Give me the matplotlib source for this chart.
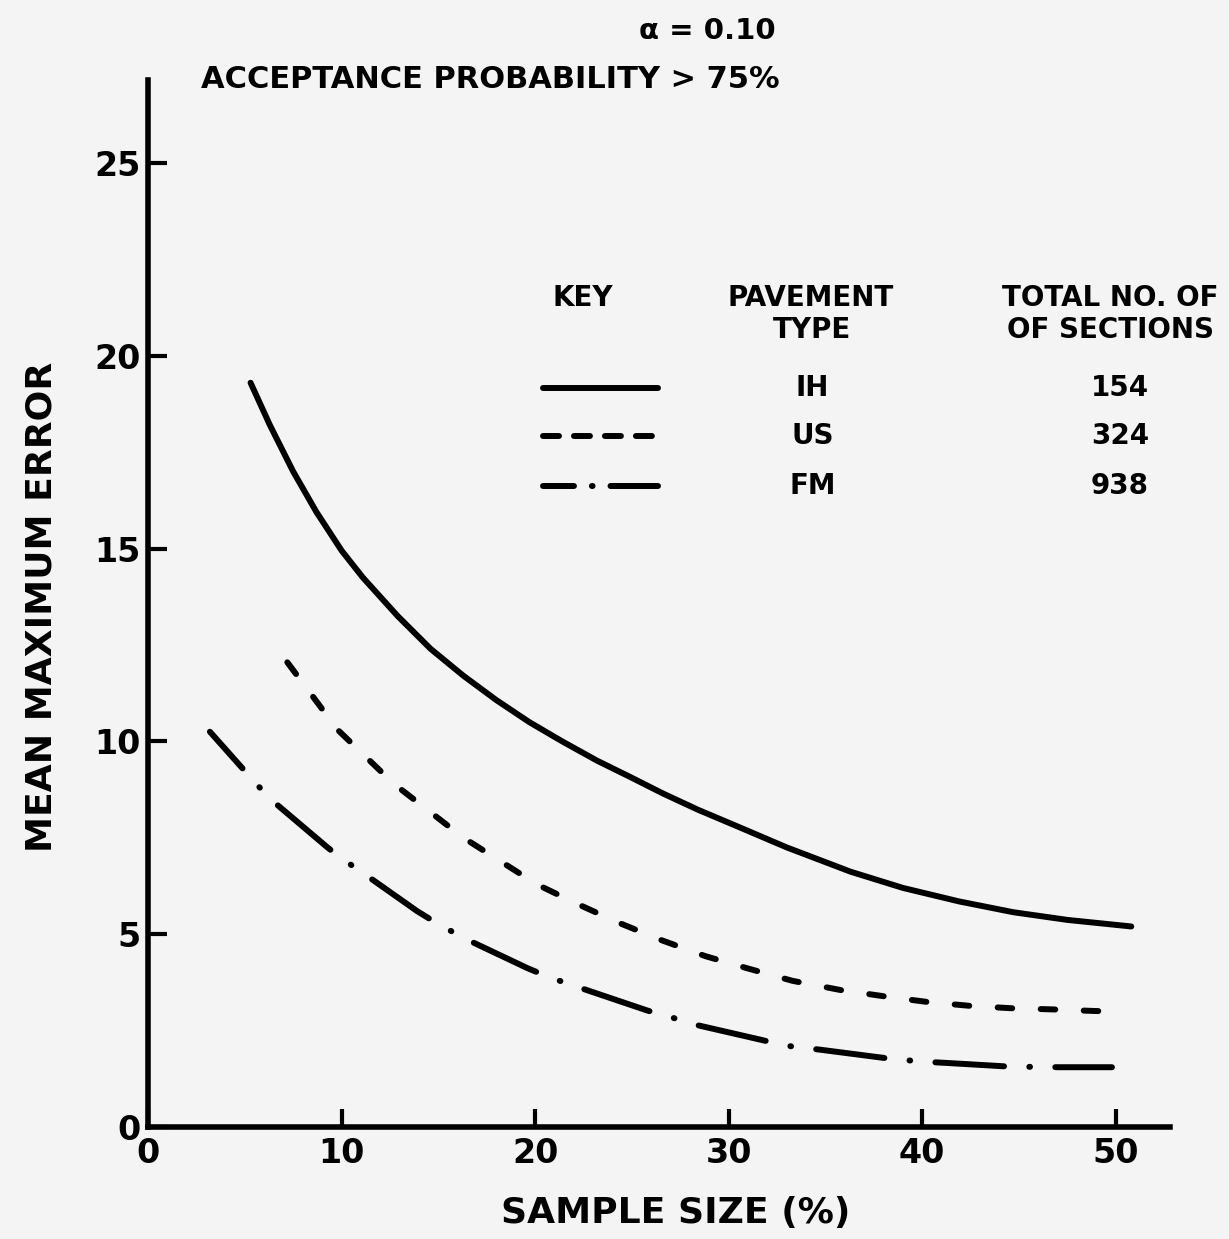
import numpy as np
import matplotlib
matplotlib.use("Agg")
import matplotlib.pyplot as plt

plt.rcParams['font.family'] = ['DejaVu Sans']
plt.rcParams['font.weight'] = 'bold'
plt.rcParams['lines.scale_dashes'] = False

# curves
ih_x = [5.3, 6.3, 7.5, 8.7, 10.0, 11.1, 12.9, 14.6, 16.3, 18.0, 19.7, 21.4, 23.2,
        24.9, 26.6, 28.4, 30.1, 33.0, 36.3, 39.0, 41.9, 44.7, 47.5, 50.8]
ih_y = [19.3, 18.2, 17.0, 15.95, 14.95, 14.25, 13.25, 12.4, 11.7, 11.07, 10.5, 10.0, 9.5,
        9.08, 8.65, 8.23, 7.87, 7.25, 6.62, 6.2, 5.85, 5.57, 5.37, 5.2]

us_x = [7.2, 9.8, 12.7, 16.3, 20.1, 22.2, 24.35, 26.5, 28.8, 31.0, 33.3, 35.8,
        38.3, 40.3, 42.5, 44.6, 46.7, 48.8, 49.6]
us_y = [12.05, 10.3, 8.9, 7.5, 6.29, 5.78, 5.29, 4.85, 4.43, 4.11, 3.79, 3.55,
        3.37, 3.24, 3.14, 3.08, 3.05, 3.01, 3.0]

fm_x = [3.2, 5.7, 6.5, 9.25, 9.9, 11.1, 13.9, 15.0, 16.4, 19.6, 20.7, 22.2, 25.8,
        27.0, 28.3, 32.2, 33.1, 34.8, 38.5, 40.2, 41.3, 44.7, 45.6, 47.1, 49.8]
fm_y = [10.25, 8.84, 8.43, 7.26, 7.0, 6.59, 5.6, 5.26, 4.88, 4.12, 3.89, 3.63, 3.02,
        2.85, 2.65, 2.2, 2.1, 2.0, 1.76, 1.69, 1.66, 1.56, 1.56, 1.55, 1.55]

pavement = ['IH', 'US', 'FM']
sections = ['154', '324', '938']

x_ticks = [0, 10, 20, 30, 40, 50]
y_ticks = [0, 5, 10, 15, 20, 25]

lw = 4.3
solid = '-'
dashed = (0, (10.5, 20.5))
dashdot = (14.2, (49.5, 18.2, 0.5, 18.2))

fig = plt.figure(figsize=(12.29, 12.39), dpi=100)
bg = '#f4f4f4'
fig.patch.set_facecolor(bg)
ax = fig.add_axes([0.1204, 0.0904, 0.8316, 0.845])
ax.set_facecolor(bg)

ax.plot(ih_x, ih_y, color='black', lw=lw, ls=solid, solid_capstyle='round',
        solid_joinstyle='round')
ax.plot(us_x, us_y, color='black', lw=lw, ls=dashed, dash_capstyle='round',
        dash_joinstyle='round')
ax.plot(fm_x, fm_y, color='black', lw=lw, ls=dashdot, dash_capstyle='round',
        dash_joinstyle='round')

ax.set_xlim(0, 52.8)
ax.set_ylim(0, 27.15)
for s in ['top', 'right']:
    ax.spines[s].set_visible(False)
for s in ['left', 'bottom']:
    ax.spines[s].set_linewidth(4)

ax.set_xticks(x_ticks)
ax.set_yticks(y_ticks)
ax.tick_params(axis='both', direction='in', width=3, labelsize=24)
ax.tick_params(axis='x', length=13, pad=7)
ax.tick_params(axis='y', length=14, pad=5)

ax.set_xlabel('SAMPLE SIZE (%)', fontsize=26, fontweight='bold')
ax.xaxis.set_label_coords(0.516, -0.066)
ax.set_ylabel('MEAN MAXIMUM ERROR', fontsize=26, fontweight='bold')
ax.yaxis.set_label_coords(-0.088, 0.497)

fig.text(707 / 1229, 1 - 31 / 1239, 'α = 0.10', fontsize=21, ha='center', va='center')
fig.text(490 / 1229, 1 - 79 / 1239, 'ACCEPTANCE PROBABILITY > 75%', fontsize=22,
         ha='center', va='center')

# key table
t = ax.transAxes
ax.text(0.4256, 0.792, 'KEY', transform=t, fontsize=20, ha='center', va='center')
ax.text(0.648, 0.792, 'PAVEMENT', transform=t, fontsize=20, ha='center', va='center')
ax.text(0.650, 0.761, 'TYPE', transform=t, fontsize=20, ha='center', va='center')
ax.text(0.942, 0.792, 'TOTAL NO. OF', transform=t, fontsize=20, ha='center', va='center')
ax.text(0.942, 0.761, 'OF SECTIONS', transform=t, fontsize=20, ha='center', va='center')

key_styles = ['-', (0, (11.5, 10.8)), (0, (22.3, 12.9, 0.5, 12.9, 40, 10))]
key_rows = [0.7058, 0.660, 0.6122]
for name, n, st, yr in zip(pavement, sections, key_styles, key_rows):
    ax.plot([0.3865, 0.499], [yr, yr], transform=t, color='black', lw=lw, ls=st,
            solid_capstyle='round', dash_capstyle='round')
    ax.text(0.650, yr, name, transform=t, fontsize=20, ha='center', va='center')
    ax.text(0.951, yr, n, transform=t, fontsize=20, ha='center', va='center')

fig.savefig('out.png', dpi=100, facecolor=bg)
